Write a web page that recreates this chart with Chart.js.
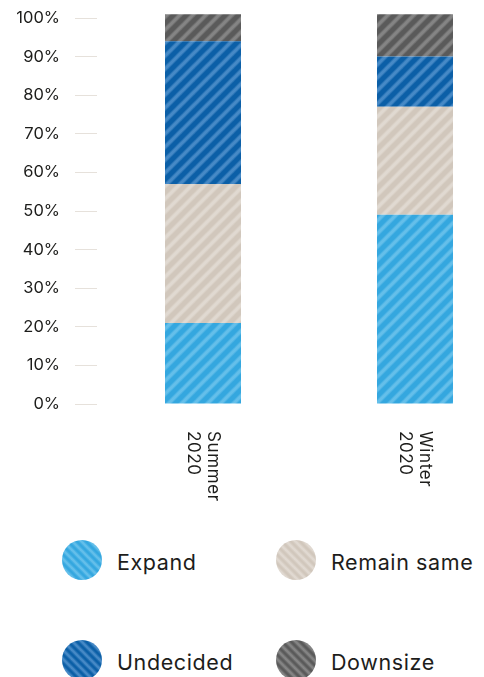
<!DOCTYPE html>
<html>
<head>
<meta charset="utf-8">
<script src="https://cdn.jsdelivr.net/npm/chart.js@4/dist/chart.umd.min.js"></script>
<style>
  html, body { margin: 0; padding: 0; background: #fff; }
  body { width: 484px; height: 677px; overflow: hidden; position: relative; font-family: Inter, "Noto Sans", sans-serif; }
  #plot { position: absolute; left: 0; top: 0; width: 521px; height: 520px; }
  .legend-item { position: absolute; display: flex; align-items: center; color: #1d1d1b; font-size: 21.5px; letter-spacing: 0.6px; }
  .legend-item canvas { display: block; margin-right: 15px; }
  .legend-item span { position: relative; top: 2px; white-space: nowrap; }
</style>
</head>
<body>
<div id="plot"><canvas id="chart"></canvas></div>
<div id="legend"></div>
<script>
// Survey periods (two-line labels) and share of answers per outcome, in %
const categories = [['Summer', '2020'], ['Winter', '2020']];
const seriesNames = ['Expand', 'Remain same', 'Undecided', 'Downsize'];
const expand = [21, 49];
const remainSame = [36, 28];
const undecided = [37, 13];
const downsize = [7, 11];
const yTickValues = [0, 10, 20, 30, 40, 50, 60, 70, 80, 90, 100];

// base colour and stripe colour for each outcome
const palette = [
  { base: '#34a7df', stripe: '#64bfea' },
  { base: '#d1c7bc', stripe: '#e0d9d1' },
  { base: '#0b5fa7', stripe: '#4689c6' },
  { base: '#5a5a5a', stripe: '#848484' }
];

// Diagonal hatch tile; dir = 1 draws "/" stripes, dir = -1 draws "\" stripes
function hatchCanvas(base, stripe, size, width, dir) {
  const c = document.createElement('canvas');
  c.width = size; c.height = size;
  const g = c.getContext('2d');
  g.fillStyle = base;
  g.fillRect(0, 0, size, size);
  g.strokeStyle = stripe;
  g.lineCap = 'square';
  const pass = (w, alpha) => {
    g.globalAlpha = alpha;
    g.lineWidth = w;
    for (let k = -1; k <= 1; k++) {
      g.beginPath();
      if (dir > 0) { g.moveTo(k * size, size); g.lineTo(k * size + size, 0); }
      else { g.moveTo(k * size, 0); g.lineTo(k * size + size, size); }
      g.stroke();
    }
  };
  pass(width + 2, 0.45);
  pass(width, 1);
  g.globalAlpha = 1;
  return c;
}

function hatchPattern(p, dir) {
  const ctx = document.createElement('canvas').getContext('2d');
  return ctx.createPattern(hatchCanvas(p.base, p.stripe, 13, 3, dir), 'repeat');
}

const seriesValues = [expand, remainSame, undecided, downsize];
const datasets = seriesNames.map((name, i) => ({
  label: name,
  data: seriesValues[i],
  backgroundColor: hatchPattern(palette[i], 1),
  borderWidth: 0,
  barPercentage: 76 / 212,
  categoryPercentage: 1,
  clip: false
}));

const labelFont = '17px Inter, "Noto Sans", sans-serif';

// Category labels written top-to-bottom under each bar
const verticalLabels = {
  id: 'verticalLabels',
  afterDraw(chart) {
    const xs = chart.scales.x;
    const area = chart.chartArea;
    const ctx = chart.ctx;
    const lineH = 20;
    ctx.save();
    ctx.font = labelFont;
    ctx.letterSpacing = '0.6px';
    ctx.fillStyle = '#1d1d1b';
    ctx.textAlign = 'left';
    ctx.textBaseline = 'middle';
    chart.data.labels.forEach((lines, i) => {
      const x = xs.getPixelForValue(i);
      ctx.save();
      ctx.translate(x, area.bottom + 27);
      ctx.rotate(Math.PI / 2);
      const n = lines.length;
      lines.forEach((t, j) => {
        ctx.fillText(t, 0, -((n - 1) / 2 - j) * lineH);
      });
      ctx.restore();
    });
    ctx.restore();
  }
};

const chart = new Chart(document.getElementById('chart'), {
  type: 'bar',
  data: { labels: categories, datasets },
  options: {
    responsive: true,
    maintainAspectRatio: false,
    animation: false,
    layout: { padding: { top: 18, bottom: 116, left: 0, right: 0 } },
    plugins: { legend: { display: false }, tooltip: { enabled: false } },
    scales: {
      x: { stacked: true, display: false },
      y: {
        stacked: true,
        min: 0,
        max: 100,
        afterBuildTicks: s => { s.ticks = yTickValues.map(v => ({ value: v })); },
        afterFit: s => { s.width = 97; s.paddingTop = 0; s.paddingBottom = 0; },
        border: { display: false },
        grid: { drawOnChartArea: false, drawTicks: true, tickLength: 22, color: '#e6e1db', lineWidth: 1 },
        ticks: {
          padding: 15,
          color: '#1d1d1b',
          font: { family: 'Inter, "Noto Sans", sans-serif', size: 16.5 },
          callback: v => v + '%'
        }
      }
    }
  },
  plugins: [verticalLabels]
});

// Legend in two columns, built from the chart's datasets
const legend = document.getElementById('legend');
const colX = [62, 276];
const rowY = [540, 640];
chart.data.datasets.forEach((ds, i) => {
  const item = document.createElement('div');
  item.className = 'legend-item';
  item.style.left = colX[i % 2] + 'px';
  item.style.top = rowY[Math.floor(i / 2)] + 'px';
  const c = document.createElement('canvas');
  c.width = 40; c.height = 40;
  const g = c.getContext('2d');
  g.fillStyle = g.createPattern(hatchCanvas(palette[i].base, palette[i].stripe, 9, 2.2, -1), 'repeat');
  g.beginPath();
  g.arc(20, 20, 20, 0, Math.PI * 2);
  g.fill();
  const span = document.createElement('span');
  span.textContent = ds.label;
  item.appendChild(c);
  item.appendChild(span);
  legend.appendChild(item);
});
</script>
</body>
</html>
